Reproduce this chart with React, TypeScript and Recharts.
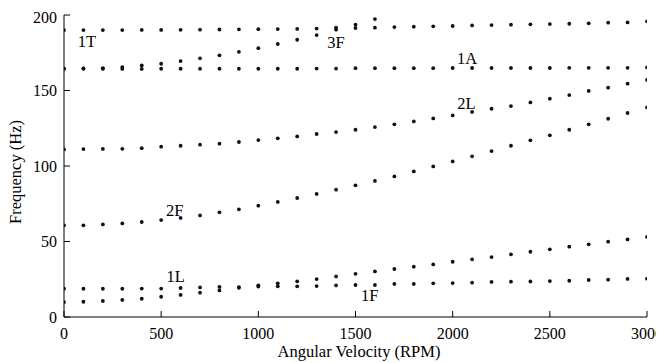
import React from 'react';
import { ScatterChart, Scatter, XAxis, YAxis } from 'recharts';

const rpm = [0, 100, 200, 300, 400, 500, 600, 700, 800, 900, 1000, 1100, 1200, 1300, 1400, 1500, 1600, 1700, 1800, 1900, 2000, 2100, 2200, 2300, 2400, 2500, 2600, 2700, 2800, 2900, 3000];

const mode1T = [190.0, 190.0, 190.0, 190.0, 190.1, 190.1, 190.2, 190.3, 190.4, 190.5, 190.6, 190.7, 190.8, 191.0, 190.3, 191.4, 191.6, 192.0, 192.3, 192.5, 192.7, 193.1, 193.3, 193.6, 193.8, 194.0, 194.2, 194.5, 194.9, 195.1, 195.8];
const mode3F = [164.5, 164.6, 164.8, 165.5, 166.6, 167.7, 169.5, 171.3, 173.3, 175.6, 178.0, 180.8, 183.6, 186.7, 191.6, 193.6, 197.3];
const mode1A = [164.4, 164.4, 164.4, 164.3, 164.3, 164.4, 164.4, 164.4, 164.4, 164.4, 164.4, 164.4, 164.4, 164.5, 164.5, 164.8, 164.8, 164.8, 164.8, 164.8, 164.9, 164.9, 164.9, 164.9, 164.9, 164.9, 165.0, 165.0, 165.0, 165.0, 165.3];
const mode2L = [111.0, 111.2, 111.3, 111.4, 111.8, 112.8, 113.4, 114.1, 114.8, 115.9, 117.2, 118.3, 119.6, 121.2, 122.5, 124.0, 125.8, 127.6, 129.5, 131.5, 133.5, 135.8, 137.9, 139.7, 142.1, 144.6, 147.0, 149.7, 151.9, 154.5, 157.0];
const mode2F = [60.7, 60.7, 61.3, 62.0, 62.9, 64.2, 65.6, 67.3, 69.3, 71.3, 73.7, 76.2, 78.8, 81.5, 84.3, 87.2, 90.1, 93.1, 96.4, 99.7, 103.0, 106.4, 109.9, 113.4, 117.0, 120.3, 124.0, 127.6, 131.3, 135.1, 138.8];
const mode1L = [18.7, 18.7, 18.7, 18.7, 18.8, 18.8, 19.2, 19.6, 19.9, 19.8, 21.0, 22.3, 23.6, 25.1, 26.9, 28.6, 30.2, 31.8, 33.3, 34.8, 36.6, 38.2, 39.7, 41.5, 43.2, 44.8, 46.6, 48.1, 49.9, 51.4, 53.0];
const mode1F = [9.9, 10.1, 10.6, 11.3, 12.1, 13.4, 14.6, 16.1, 17.6, 19.3, 20.2, 20.3, 20.3, 20.5, 20.9, 21.2, 21.2, 21.9, 21.9, 22.3, 22.5, 22.7, 23.2, 23.4, 23.5, 23.8, 24.0, 24.5, 24.7, 25.2, 25.4];

const labelNames = ['1T', '3F', '1A', '2L', '2F', '1L', '1F'];
const labelX = [118, 1400, 2074, 2071, 570, 574, 1573];
const labelY = [182.5, 182, 171.5, 141.7, 71, 26.9, 14.1];

const xTicks = [0, 500, 1000, 1500, 2000, 2500, 3000];
const yTicks = [0, 50, 100, 150, 200];

const FONT = "'Liberation Serif', 'Times New Roman', serif";
const FS = 16.5;
const TFS = 16;
const textStyle = { fontFamily: FONT, fontSize: FS };

const toPts = (vals: number[]) => vals.map((v, i) => ({ x: rpm[i], y: v }));
const allSeries = [mode1T, mode3F, mode1A, mode2L, mode2F, mode1L, mode1F];
const labelData = labelNames.map((t, i) => ({ x: labelX[i], y: labelY[i], label: t }));

const Dot = (p: any) => <circle cx={p.cx} cy={p.cy} r={1.9} fill="#111" />;
const LabelShape = (p: any) => (
  <text x={p.cx} y={p.cy} dy="0.35em" textAnchor="middle" style={textStyle} fill="#000">
    {p.payload.label}
  </text>
);
const Empty = () => <g />;

const XLabel = (p: any) => {
  const vb = p.viewBox || { x: 56, y: 309, width: 583, height: 46 };
  return (
    <text x={vb.x + vb.width / 2 + 3.5} y={vb.y + 40} textAnchor="middle" style={textStyle} fill="#000">
      Angular Velocity (RPM)
    </text>
  );
};
const YLabel = (p: any) => {
  const vb = p.viewBox || { x: 0, y: 7, width: 56, height: 302 };
  const cx = vb.x + 13;
  const cy = vb.y + vb.height / 2 + 6;
  return (
    <text x={cx} y={cy} transform={`rotate(-90, ${cx}, ${cy})`} textAnchor="middle" style={textStyle} fill="#000">
      Frequency (Hz)
    </text>
  );
};

const tickStyle = { fill: '#000', fontSize: TFS, fontFamily: FONT };
const lineStyle = { stroke: '#000', strokeWidth: 1 };

export default function App() {
  return (
    <div style={{ fontFamily: FONT, width: 656, height: 355 }}>
      <style>{'html,body{overflow:hidden;} .recharts-surface{overflow:visible;}'}</style>
      <ScatterChart width={656} height={355} margin={{ top: 7, right: 17, left: 0, bottom: 0 }}>
        <XAxis xAxisId="b" type="number" dataKey="x" domain={[0, 3000]} ticks={xTicks} orientation="bottom" height={46}
          tickSize={-6} tickMargin={17} axisLine={lineStyle} tickLine={lineStyle} tick={tickStyle} allowDataOverflow label={XLabel} />
        <XAxis xAxisId="t" type="number" dataKey="x" domain={[0, 3000]} ticks={xTicks} orientation="top" height={0}
          tickSize={-6} axisLine={lineStyle} tickLine={lineStyle} tick={false} allowDataOverflow />
        <YAxis yAxisId="l" type="number" dataKey="y" domain={[0, 200]} ticks={yTicks} orientation="left" width={56}
          tickSize={-6} tickMargin={13} axisLine={lineStyle} tickLine={lineStyle} tick={tickStyle} allowDataOverflow label={YLabel} />
        <YAxis yAxisId="r" type="number" dataKey="y" domain={[0, 200]} ticks={yTicks} orientation="right" width={0}
          tickSize={-6} axisLine={lineStyle} tickLine={lineStyle} tick={false} allowDataOverflow />
        <Scatter xAxisId="t" yAxisId="r" data={toPts(mode1A)} shape={Empty} isAnimationActive={false} />
        {allSeries.map((s, i) => (
          <Scatter key={i} xAxisId="b" yAxisId="l" data={toPts(s)} shape={Dot} isAnimationActive={false} />
        ))}
        <Scatter xAxisId="b" yAxisId="l" data={labelData} shape={LabelShape} isAnimationActive={false} />
      </ScatterChart>
    </div>
  );
}
